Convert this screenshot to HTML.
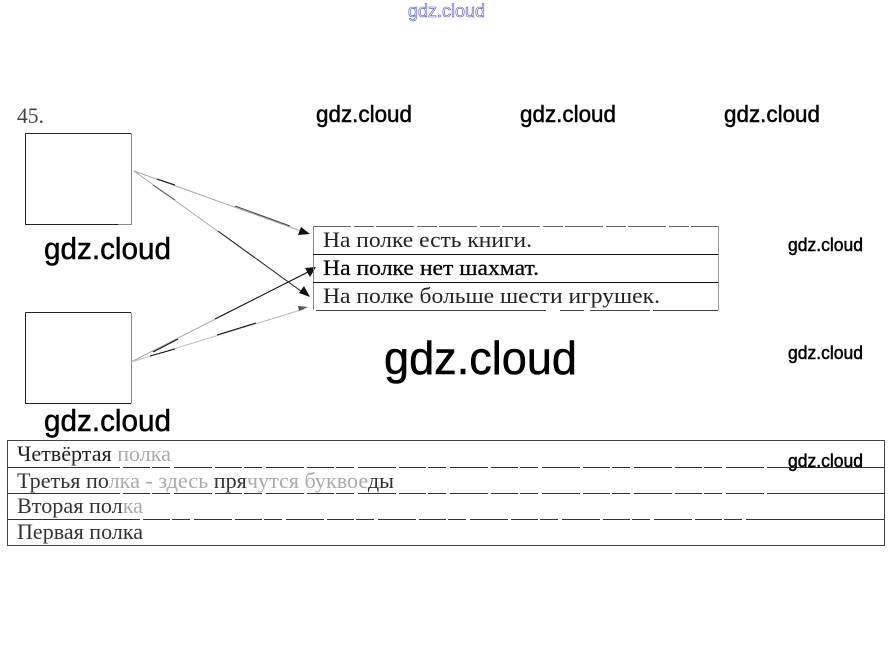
<!DOCTYPE html>
<html lang="ru">
<head>
<meta charset="utf-8">
<title>45</title>
<style>
html,body{margin:0;padding:0;background:#fff;width:893px;height:648px;overflow:hidden}
svg{display:block}
.s{font-family:"Liberation Serif","DejaVu Serif",serif;font-size:22px;fill:#222}
.w{font-family:"Liberation Sans","DejaVu Sans",sans-serif;fill:#000;stroke:#000;stroke-width:.5px}
</style>
</head>
<body>
<svg width="893" height="648" viewBox="0 0 893 648" xmlns="http://www.w3.org/2000/svg">
<!-- top watermark -->
<text x="408" y="17" font-family="Liberation Sans, sans-serif" font-size="18" fill="#fff" stroke="#4a4ad0" stroke-width=".6" textLength="77" lengthAdjust="spacingAndGlyphs">gdz.cloud</text>

<text x="17" y="123" class="s" style="fill:#444" textLength="27" lengthAdjust="spacingAndGlyphs">45.</text>

<!-- boxes -->
<g fill="none" stroke-width="1">
<path d="M25.5 133.5H131M25.5 133.5V224.5H118" stroke="#222"/>
<path d="M131.5 133.5V224.5H118" stroke="#888"/>
<path d="M25.5 312.5H131M25.5 312.5V403.5H131" stroke="#222"/>
<path d="M131.5 312.5V403.5" stroke="#888"/>
</g>

<!-- arrows -->
<g fill="none" stroke-width="1">
<line x1="134" y1="171" x2="304" y2="232" stroke="#aaa"/>
<line x1="157" y1="179" x2="175" y2="185" stroke="#111"/>
<line x1="235" y1="206" x2="290" y2="226" stroke="#444"/>
<line x1="134" y1="171" x2="305" y2="294" stroke="#aaa"/>
<line x1="153" y1="185" x2="175" y2="200" stroke="#555"/>
<line x1="218" y1="231" x2="305" y2="294" stroke="#222"/>
<line x1="131" y1="362" x2="312" y2="270" stroke="#aaa"/>
<line x1="215" y1="319" x2="312" y2="270" stroke="#111"/>
<line x1="153" y1="352" x2="178" y2="339" stroke="#111"/>
<line x1="131" y1="362" x2="304" y2="309" stroke="#bbb"/>
<line x1="150" y1="356" x2="175" y2="349" stroke="#111"/>
<line x1="217" y1="335" x2="256" y2="323" stroke="#111"/>
</g>
<g fill="#111">
<polygon points="310,234 298,235 301,227"/>
<polygon points="310,297 299,293 304,286"/>
<polygon points="316,267 310,277 305,268"/>
<polygon points="308,307 299,311 298,306" fill="#555"/>
</g>

<!-- middle table -->
<g fill="none" stroke-width="1">
<path d="M313.5 226V310" stroke="#888"/>
<path d="M718.5 226V310" stroke="#999"/>
<path d="M313 226.5H718" stroke="#666" stroke-dasharray="38 3 20 2"/>
<path d="M313 254.5H718M313 282.5H718" stroke="#111"/>
<path d="M316 310.5H718" stroke="#444" stroke-dasharray="230 14 24 6 60 3"/>
</g>
<text x="323" y="247" class="s" textLength="209" lengthAdjust="spacingAndGlyphs">На полке есть книги.</text>
<text x="323" y="275" class="s" style="fill:#000" stroke="#000" stroke-width=".25" textLength="216" lengthAdjust="spacingAndGlyphs">На полке нет шахмат.</text>
<text x="323" y="303" class="s" textLength="337" lengthAdjust="spacingAndGlyphs">На полке больше шести игрушек.</text>

<!-- bottom table -->
<g fill="none" stroke-width="1">
<rect x="7.5" y="440.5" width="877" height="105" stroke="#444"/>
<path d="M7 467.5H885M7 493.5H885M7 519.5H885" stroke="#333"/>
<path d="M120 467.5H770M120 493.5H770M140 519.5H775" stroke="#fff" stroke-width="2" stroke-dasharray="3 27 2 18 4 38"/>
</g>
<text x="17" y="461" class="s" style="fill:#222" textLength="154" lengthAdjust="spacingAndGlyphs">Четвёртая<tspan style="fill:#aaa"> полка</tspan></text>
<text x="17" y="488" class="s" style="fill:#333" textLength="377" lengthAdjust="spacingAndGlyphs">Третья по<tspan style="fill:#aaa">лка - здесь </tspan>пря<tspan style="fill:#aaa">чутся буквое</tspan>ды</text>
<text x="17" y="513" class="s" style="fill:#333" textLength="126" lengthAdjust="spacingAndGlyphs">Вторая пол<tspan style="fill:#aaa">ка</tspan></text>
<text x="17" y="539" class="s" style="fill:#333" textLength="126" lengthAdjust="spacingAndGlyphs">Первая полка</text>

<!-- watermarks -->
<text x="316" y="122" class="w" font-size="23" textLength="96" lengthAdjust="spacingAndGlyphs">gdz.cloud</text>
<text x="520" y="122" class="w" font-size="23" textLength="96" lengthAdjust="spacingAndGlyphs">gdz.cloud</text>
<text x="724" y="122" class="w" font-size="23" textLength="96" lengthAdjust="spacingAndGlyphs">gdz.cloud</text>
<text x="44" y="259" class="w" font-size="31" textLength="127" lengthAdjust="spacingAndGlyphs">gdz.cloud</text>
<text x="44" y="431" class="w" font-size="31" textLength="127" lengthAdjust="spacingAndGlyphs">gdz.cloud</text>
<text x="384" y="374" class="w" font-size="46" textLength="193" lengthAdjust="spacingAndGlyphs">gdz.cloud</text>
<text x="788" y="251" class="w" font-size="18" textLength="75" lengthAdjust="spacingAndGlyphs">gdz.cloud</text>
<text x="788" y="359" class="w" font-size="18" textLength="75" lengthAdjust="spacingAndGlyphs">gdz.cloud</text>
<text x="788" y="467" class="w" font-size="18" textLength="75" lengthAdjust="spacingAndGlyphs">gdz.cloud</text>
</svg>
</body>
</html>
